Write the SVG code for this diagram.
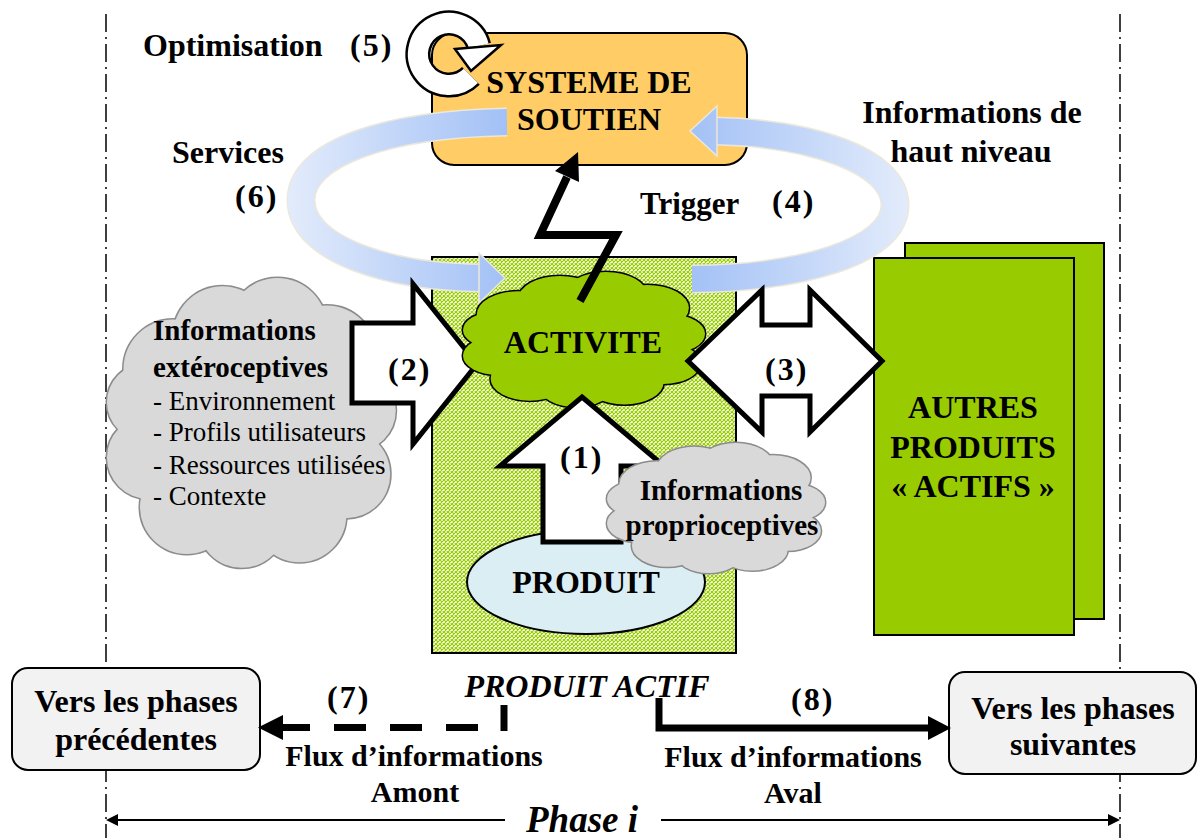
<svg xmlns="http://www.w3.org/2000/svg" width="1198" height="838" viewBox="0 0 1198 838">
<style>
text{font-family:"Liberation Serif","Times New Roman",serif;fill:#000}
.b{font-weight:bold}
.i{font-style:italic}
.f32{font-size:32px}
.f30{font-size:30px}
.f29{font-size:29px}
.f27{font-size:27px}
.m{text-anchor:middle}
.dd{stroke:#000;stroke-width:1.5;stroke-dasharray:18 5 2 5;fill:none}
.blk{fill:#fff;stroke:#000;stroke-width:5;stroke-linejoin:miter}
.band{fill:none;stroke-width:26}
.bandEdge{fill:none;stroke:#ECE8DA;stroke-width:29}
.rbox{fill:#F2F2F2;stroke:#000;stroke-width:2}
</style>
<defs>
<pattern id="net" width="4" height="4" patternUnits="userSpaceOnUse"><rect width="4" height="4" fill="#fff"/><path d="M0 0L4 4M4 0L0 4" stroke="#99CC00" stroke-width="1.2"/></pattern>
<linearGradient id="gL" gradientUnits="userSpaceOnUse" x1="290" y1="0" x2="505" y2="0"><stop offset="0" stop-color="#E2EBFB"/><stop offset="1" stop-color="#A3C1F6"/></linearGradient>
<linearGradient id="gR" gradientUnits="userSpaceOnUse" x1="690" y1="0" x2="905" y2="0"><stop offset="0" stop-color="#A3C1F6"/><stop offset="1" stop-color="#E2EBFB"/></linearGradient>
<g id="cloud">
<circle cx="50" cy="52" r="38" vector-effect="non-scaling-stroke"/>
<circle cx="22" cy="30" r="18" vector-effect="non-scaling-stroke"/>
<circle cx="40" cy="18" r="18" vector-effect="non-scaling-stroke"/>
<circle cx="60" cy="15" r="18" vector-effect="non-scaling-stroke"/>
<circle cx="78" cy="25" r="18" vector-effect="non-scaling-stroke"/>
<circle cx="88" cy="45" r="15" vector-effect="non-scaling-stroke"/>
<circle cx="85" cy="68" r="16" vector-effect="non-scaling-stroke"/>
<circle cx="68" cy="83" r="17" vector-effect="non-scaling-stroke"/>
<circle cx="47" cy="86" r="16" vector-effect="non-scaling-stroke"/>
<circle cx="27" cy="80" r="17" vector-effect="non-scaling-stroke"/>
<circle cx="13" cy="62" r="15" vector-effect="non-scaling-stroke"/>
<circle cx="12" cy="42" r="14" vector-effect="non-scaling-stroke"/>
</g>
</defs>
<rect width="1198" height="838" fill="#fff"/>

<g id="phase-bounds">
<line class="dd" x1="106" y1="14" x2="106" y2="838"/>
<line class="dd" x1="1120" y1="14" x2="1120" y2="838"/>
</g>

<g id="systeme-soutien">
<rect x="432" y="33" width="315" height="132" rx="22" fill="#FFCC66" stroke="#000" stroke-width="2"/>
<text class="b f32 m" x="589" y="93">SYSTEME DE</text>
<text class="b f32 m" x="589" y="130">SOUTIEN</text>
</g>

<g id="produit-actif">
<rect x="432" y="257" width="304" height="396" fill="url(#net)" stroke="#000" stroke-width="2"/>
<text class="b i f32 m" x="587" y="697">PRODUIT ACTIF</text>
</g>

<g id="infos-exteroceptives">
<use href="#cloud" transform="translate(112.5,286.3) scale(2.75,2.76)" fill="#8C8C8C" stroke="#8C8C8C" stroke-width="3"/>
<use href="#cloud" transform="translate(112.5,286.3) scale(2.75,2.76)" fill="#D9D9D9"/>
<text class="b f29" x="153" y="340">Informations</text>
<text class="b f29" x="153" y="377">extéroceptives</text>
<text class="f27" x="153" y="410">- Environnement</text>
<text class="f27" x="153" y="441">- Profils utilisateurs</text>
<text class="f27" x="153" y="474">- Ressources utilisées</text>
<text class="f27" x="153" y="505">- Contexte</text>
</g>

<g id="autres-produits">
<rect x="905" y="243" width="199" height="376" fill="#99CC00" stroke="#000" stroke-width="2"/>
<rect x="874" y="258" width="200" height="377" fill="#99CC00" stroke="#000" stroke-width="2"/>
<text class="b f32 m" x="973" y="418">AUTRES</text>
<text class="b f32 m" x="973" y="458">PRODUITS</text>
<text class="b f32 m" x="973" y="497">« ACTIFS »</text>
</g>

<g id="connectors">
<g id="services-6">
<path class="bandEdge" d="M507 122 C390 124 301 152 301 200 C301 250 390 277 482 278"/>
<path class="band" stroke="url(#gL)" d="M507 122 C390 124 301 152 301 200 C301 250 390 277 482 278"/>
<polygon points="479,253 505,278 479,303" fill="url(#gL)" stroke="#ECE8DA" stroke-width="1.5"/>
</g>
<g id="infos-haut-niveau-4">
<path class="bandEdge" d="M692 279 C800 278 895 252 895 205 C895 160 810 133 714 131"/>
<path class="band" stroke="url(#gR)" d="M692 279 C800 278 895 252 895 205 C895 160 810 133 714 131"/>
<polygon points="717,106 690,131 717,156" fill="url(#gR)" stroke="#ECE8DA" stroke-width="1.5"/>
</g>
<polygon id="arrow-2" class="blk" points="352,323 413,323 413,284 477,364 413,444 413,403 352,403"/>
</g>

<g id="activite">
<use href="#cloud" transform="translate(467.6,275.9) scale(2.305,1.286)" fill="#000" stroke="#000" stroke-width="3"/>
<use href="#cloud" transform="translate(467.6,275.9) scale(2.305,1.286)" fill="#99CC00"/>
<text class="b f32 m" x="583" y="353">ACTIVITE</text>
</g>

<g id="connectors-2">
<polygon id="arrow-3" class="blk" points="688,361 762,290 762,325 810,325 810,290 882,361 810,432 810,396 762,396 762,432"/>
<g id="trigger">
<polyline points="580,301 616,235 540,235 567,177" fill="none" stroke="#000" stroke-width="8" stroke-linejoin="miter"/>
<polygon points="578,152 579,182 555,171" fill="#000"/>
</g>
</g>

<g id="produit">
<ellipse cx="586" cy="582" rx="119" ry="52" fill="#DAEEF3" stroke="#000" stroke-width="2"/>
<text class="b f32 m" x="586" y="593">PRODUIT</text>
</g>

<polygon id="arrow-1" class="blk" points="582,397 664,466 621,466 621,542 543,542 543,466 500,466"/>

<g id="infos-proprioceptives">
<use href="#cloud" transform="translate(611.2,446.7) scale(2.076,1.238)" fill="#8C8C8C" stroke="#8C8C8C" stroke-width="3"/>
<use href="#cloud" transform="translate(611.2,446.7) scale(2.076,1.238)" fill="#D9D9D9"/>
<text class="b f29 m" x="721" y="500">Informations</text>
<text class="b f29 m" x="722" y="535">proprioceptives</text>
</g>

<g id="optimisation">
<path d="M470.9 75.9 A31 31 0 1 1 478.9 46" fill="none" stroke="#000" stroke-width="25"/>
<path d="M470.9 75.9 A31 31 0 1 1 478.9 46" fill="none" stroke="#fff" stroke-width="20"/>
<polygon points="455,49 501,45 471,71" fill="#fff" stroke="#000" stroke-width="2.5" stroke-linejoin="miter"/>
</g>

<g id="labels">
<text class="b f32" x="143" y="56">Optimisation</text>
<text class="b f32" x="350" y="56" letter-spacing="2">(5)</text>
<text class="b f32" x="172" y="163">Services</text>
<text class="b f32" x="235" y="207" letter-spacing="2">(6)</text>
<text class="b" style="font-size:31px" x="640" y="214">Trigger</text>
<text class="b f32" x="772" y="212" letter-spacing="2">(4)</text>
<text class="b f32 m" x="972" y="123">Informations de</text>
<text class="b f32 m" x="971" y="162">haut niveau</text>
<text class="b f32" x="388" y="380" letter-spacing="2">(2)</text>
<text class="b f32" x="765" y="380" letter-spacing="2">(3)</text>
<text class="b f32" x="560" y="468" letter-spacing="2">(1)</text>
</g>

<g id="phases-precedentes">
<rect class="rbox" x="12" y="668" width="248" height="102" rx="16"/>
<text class="b f32 m" x="136" y="712">Vers les phases</text>
<text class="b f32 m" x="136" y="750">précédentes</text>
</g>

<g id="phases-suivantes">
<rect class="rbox" x="949" y="672" width="247" height="102" rx="16"/>
<text class="b f32 m" x="1073" y="719">Vers les phases</text>
<text class="b f32 m" x="1073" y="755">suivantes</text>
</g>

<g id="flux-connectors">
<g id="flux-amont-7">
<path d="M504 705 V731" fill="none" stroke="#000" stroke-width="7"/>
<path d="M478 727.5 H280" fill="none" stroke="#000" stroke-width="7" stroke-dasharray="32 24"/>
<polygon points="258,727.5 283,715 283,740" fill="#000"/>
<text class="b f32" x="327" y="708" letter-spacing="2">(7)</text>
<text class="b f30 m" x="414" y="766">Flux d’informations</text>
<text class="b f30 m" x="415" y="802">Amont</text>
</g>
<g id="flux-aval-8">
<path d="M659 698 V728 H930" fill="none" stroke="#000" stroke-width="7" stroke-linejoin="miter"/>
<polygon points="951,728 928,716 928,740" fill="#000"/>
<text class="b f32" x="791" y="710" letter-spacing="2">(8)</text>
<text class="b f30 m" x="793" y="767">Flux d’informations</text>
<text class="b f30 m" x="793" y="803">Aval</text>
</g>
<g id="phase-i">
<line x1="505" y1="820" x2="116" y2="820" stroke="#000" stroke-width="2"/>
<polygon points="106,820 118,814 118,826" fill="#000"/>
<line x1="661" y1="820" x2="1110" y2="820" stroke="#000" stroke-width="2"/>
<polygon points="1120,820 1108,814 1108,826" fill="#000"/>
<text class="b i m" style="font-size:37px" x="582" y="832">Phase i</text>
</g>
</g>
</svg>
